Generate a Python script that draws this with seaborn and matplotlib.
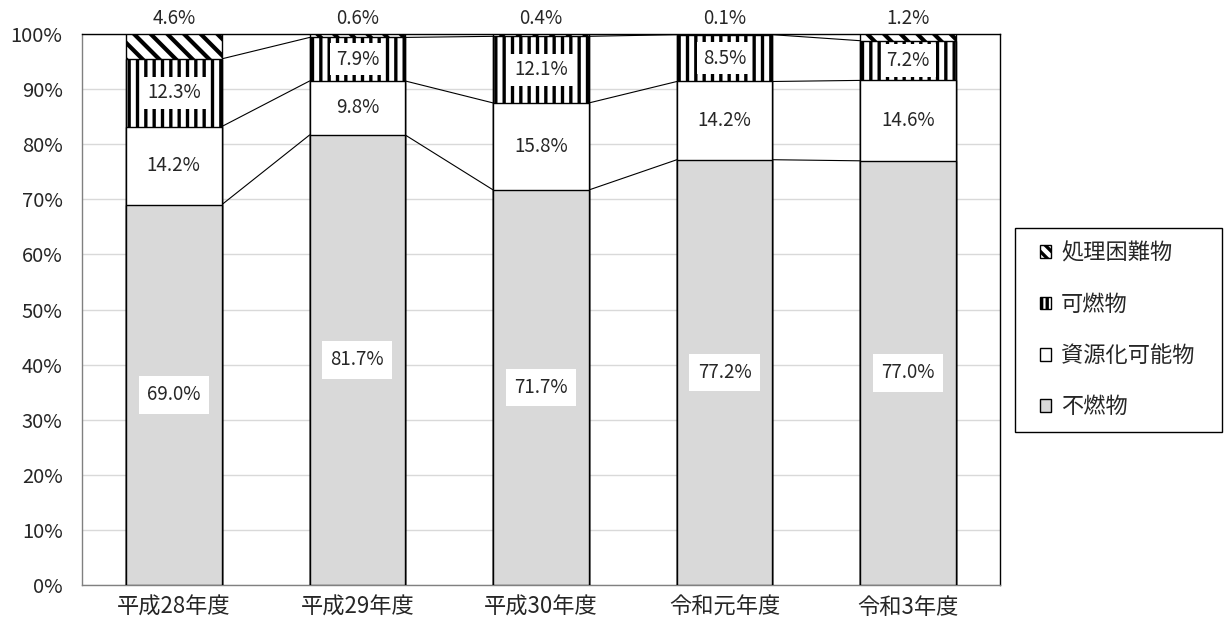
import numpy as np
import matplotlib
matplotlib.use("Agg")
import matplotlib.pyplot as plt
import matplotlib.patches as mpatches
import seaborn as sns

# data (percent of total)
years = ["平成28年度", "平成29年度", "平成30年度", "令和元年度", "令和3年度"]
funen = [69.0, 81.7, 71.7, 77.2, 77.0]        # 不燃物
shigen = [14.2, 9.8, 15.8, 14.2, 14.6]        # 資源化可能物
kanen = [12.3, 7.9, 12.1, 8.5, 7.2]           # 可燃物
konnan = [4.6, 0.6, 0.4, 0.1, 1.2]            # 処理困難物
yticks = list(range(0, 101, 10))

series_names = ["不燃物", "資源化可能物", "可燃物", "処理困難物"]

sns.set_style("white")
plt.rcParams["font.family"] = ["Noto Sans CJK JP", "DejaVu Sans"]
plt.rcParams["hatch.linewidth"] = 2.4

stack = np.array([funen, shigen, kanen, konnan])
cum = np.cumsum(stack, axis=0)

fig = plt.figure(figsize=(12.24, 6.26), dpi=100)
ax = fig.add_axes([0.067, 0.0655, 0.75, 0.880])

styles = [
    dict(color="#d9d9d9", hatch=None, hlw=None),
    dict(color="white", hatch=None, hlw=None),
    dict(color="white", hatch="||", hlw=2.4),
    dict(color="white", hatch="\\\\", hlw=3.0),
]
bar_w = 0.52

# draw cumulative totals from top to bottom so each layer covers the one above
for i in range(3, -1, -1):
    n_before = len(ax.patches)
    sns.barplot(x=years, y=cum[i], color=styles[i]["color"], hatch=styles[i]["hatch"],
                edgecolor="black", linewidth=1, width=bar_w, saturation=1, ax=ax, zorder=3)
    if styles[i]["hlw"]:
        for p in ax.patches[n_before:]:
            try:
                p.set_hatch_linewidth(styles[i]["hlw"])
            except AttributeError:
                pass

# series lines between neighbouring bars
xs = np.arange(len(years))
for i in range(3):
    for j in range(len(years) - 1):
        ax.plot([xs[j] + bar_w / 2, xs[j + 1] - bar_w / 2], [cum[i][j], cum[i][j + 1]],
                color="black", lw=0.8, zorder=2)

# value labels
fs = 13.5
for j in range(len(years)):
    ax.text(xs[j], cum[0][j] / 2, f"{funen[j]:.1f}%", ha="center", va="center", fontsize=fs,
            zorder=5, bbox=dict(facecolor="white", edgecolor="none", pad=6))
    ax.text(xs[j], cum[0][j] + shigen[j] / 2, f"{shigen[j]:.1f}%", ha="center", va="center",
            fontsize=fs, zorder=5)
    ax.text(xs[j], cum[1][j] + kanen[j] / 2, f"{kanen[j]:.1f}%", ha="center", va="center",
            fontsize=fs, zorder=5, bbox=dict(facecolor="white", edgecolor="none", pad=4))
    ax.text(xs[j], 102.9, f"{konnan[j]:.1f}%", ha="center", va="center", fontsize=fs,
            zorder=5, clip_on=False)

ax.set_ylim(0, 100)
ax.set_xlim(-0.5, len(years) - 0.5)
ax.set_yticks(yticks)
ax.set_yticklabels([f"{v}%" for v in yticks])
ax.set_xlabel("")
ax.set_ylabel("")
ax.tick_params(axis="both", length=0)
ax.tick_params(axis="y", pad=14, labelsize=14.5)
ax.tick_params(axis="x", pad=8, labelsize=16)
ax.yaxis.grid(True, color="#d9d9d9", lw=1)
ax.set_axisbelow(True)
for s in ["left", "bottom"]:
    ax.spines[s].set_color("#808080")
for s in ["top", "right"]:
    ax.spines[s].set_color("black")
for s in ax.spines.values():
    s.set_linewidth(1)

# legend frame drawn separately so its padding can match the reference box
fw, fh = 1224, 626
frame = mpatches.Rectangle((1015 / fw, 194 / fh), 207 / fw, 204 / fh, transform=fig.transFigure,
                           facecolor="white", edgecolor="black", lw=1)
fig.patches.append(frame)

handles = [
    mpatches.Patch(facecolor="white", edgecolor="black", hatch="\\\\\\", label=series_names[3]),
    mpatches.Patch(facecolor="white", edgecolor="black", hatch="|||", label=series_names[2]),
    mpatches.Patch(facecolor="white", edgecolor="black", label=series_names[1]),
    mpatches.Patch(facecolor="#d9d9d9", edgecolor="black", label=series_names[0]),
]
leg = fig.legend(handles=handles, loc="center left", bbox_to_anchor=(1040 / fw, 296 / fh),
                 fontsize=16, frameon=False, handlelength=0.5, handleheight=0.5,
                 handletextpad=0.45, labelspacing=1.27, borderpad=0, borderaxespad=0)

fig.savefig("out.png", dpi=100)
